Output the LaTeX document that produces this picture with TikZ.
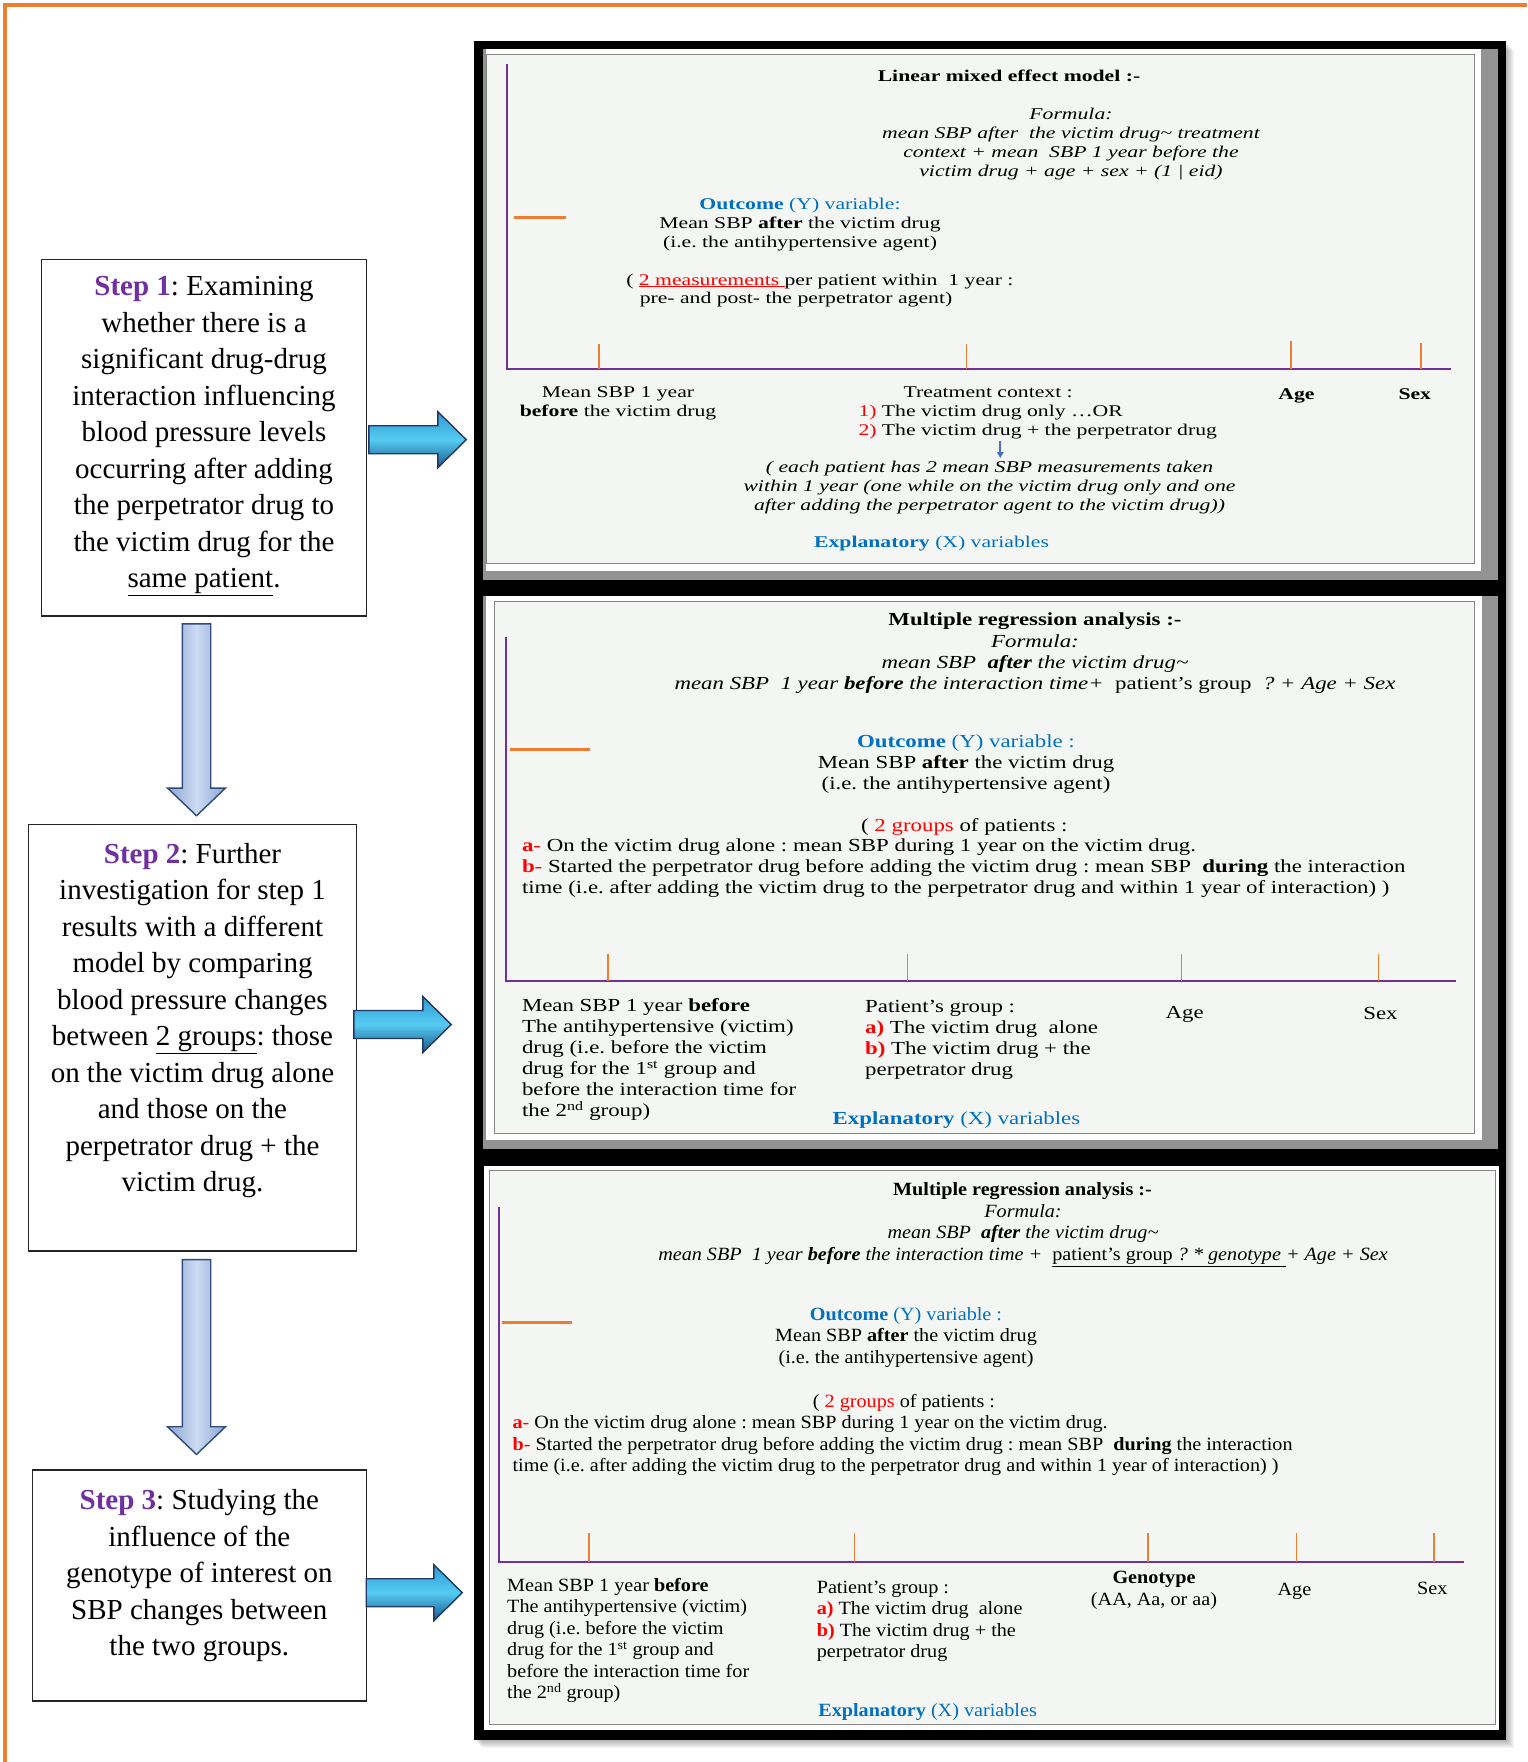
\documentclass[tikz,border=0pt]{standalone}
\usepackage{fontspec}
\setmainfont{Liberation Serif}
\newfontfamily\panelfontA{Liberation Serif}[FakeStretch=1.322]
\newfontfamily\panelfontB{Liberation Serif}[FakeStretch=1.242]
\newfontfamily\panelfontC{Liberation Serif}[FakeStretch=1.079]
\usetikzlibrary{calc,arrows.meta}

\definecolor{framecol}{HTML}{ED7D31}
\definecolor{stepviolet}{HTML}{7030A0}
\definecolor{axisviolet}{HTML}{7030A0}
\definecolor{tickorange}{HTML}{ED7D31}
\definecolor{textblue}{HTML}{0070C0}
\definecolor{textred}{HTML}{FF0000}
\definecolor{panelbg}{HTML}{F4F6F4}
\definecolor{panelline}{HTML}{858585}
\definecolor{shadowgray}{HTML}{939393}
\definecolor{arrowblue}{HTML}{4472C4}
\definecolor{dnfillA}{HTML}{8DA5D3}
\definecolor{dnfillB}{HTML}{CCDBF3}
\definecolor{dnline}{HTML}{2F4B7C}
\definecolor{rtop}{HTML}{2F9AD2}
\definecolor{rmid}{HTML}{56CBF2}
\definecolor{rbot}{HTML}{17588A}
\definecolor{rline}{HTML}{1F3864}

% strut fixing the top of a text block at 0.8em above its first baseline
\newcommand\firststrut{\rule{0pt}{0.8em}}

\tikzset{
  stepbox/.style={draw=black!85, line width=1.1pt, inner sep=0pt, fill=white},
  steptext/.style={font={\fontsize{29}{36.5}\selectfont}, inner sep=0pt, anchor=north, align=center},
  pA/.style={font={\panelfontA\fontsize{16.4}{18.9}\selectfont}, inner sep=0pt},
  pAi/.style={font={\panelfontA\fontsize{16.4}{18.9}\selectfont\itshape}, inner sep=0pt},
  pB/.style={font={\panelfontB\fontsize{18.4}{21.0}\selectfont}, inner sep=0pt},
  pBi/.style={font={\panelfontB\fontsize{18.4}{21.2}\selectfont\itshape}, inner sep=0pt},
  pC/.style={font={\panelfontC\fontsize{18.7}{21.5}\selectfont}, inner sep=0pt},
  pCi/.style={font={\panelfontC\fontsize{18.7}{21.8}\selectfont\itshape}, inner sep=0pt},
  axisline/.style={draw=axisviolet, line width=1.6pt},
  tickline/.style={draw=tickorange, line width=1.6pt},
  dashline/.style={draw=tickorange, line width=2.6pt},
  panelface/.style={fill=panelbg, draw=panelline, line width=1pt},
  framebar/.style={draw=framecol, line width=3.2pt},
  notearrow/.style={draw=arrowblue, line width=1.7pt, -{Triangle[length=6pt,width=6.5pt]}},
  downarrow/.style={left color=dnfillA, right color=dnfillA, middle color=dnfillB, draw=dnline, line width=1.4pt, line join=miter},
  rightarrow/.style={top color=rtop, bottom color=rbot, middle color=rmid, draw=rline, line width=1.4pt, line join=miter},
}

% vertical block arrow from #1 (top of shaft) to #2 (tip)
\newcommand\downblock[2]{%
  \path[downarrow] let \p1=(#1), \p2=(#2) in
    (\x1-14.2pt,\y1) -- (\x1+14.2pt,\y1) -- (\x1+14.2pt,\y2+27.7pt) -- (\x1+29pt,\y2+27.7pt)
    -- (\x2,\y2) -- (\x1-29pt,\y2+27.7pt) -- (\x1-14.2pt,\y2+27.7pt) -- cycle;}
% horizontal block arrow from #1 (tail) to #2 (tip)
\newcommand\rightblock[2]{%
  \path[rightarrow] let \p1=(#1), \p2=(#2) in
    (\x1,\y1+14pt) -- (\x2-28.4pt,\y1+14pt) -- (\x2-28.4pt,\y1+28pt) -- (\x2,\y1)
    -- (\x2-28.4pt,\y1-28pt) -- (\x2-28.4pt,\y1-14pt) -- (\x1,\y1-14pt) -- cycle;}

\begin{document}
\frenchspacing
\begin{tikzpicture}[x=1pt,y=-1pt]
\useasboundingbox (0,0) rectangle (1527,1762);
\fill[white] (0,0) rectangle (1527,1762);

% orange outline along top and left
\draw[framebar] (5,1762) -- (5,5) -- (1527,5);

% black frame holding the three model panels, with a soft shadow
\foreach \d in {1,...,8}
  \fill[black,opacity=0.04] ({474+\d},{42+\d}) rectangle ({1506+\d},{1740+\d});
\fill[black] (474,41) rectangle (1506,1740);

% panel 1
\fill[shadowgray] (483,49) rectangle (1498,580);
\fill[white] (486,49) rectangle (1481,571);
\path[panelface] (486.5,54) rectangle (1474,563);
% panel 2
\fill[shadowgray] (483,596) rectangle (1498,1149);
\fill[white] (486,596) rectangle (1482,1140);
\path[panelface] (494,601) rectangle (1474,1133);
% panel 3
\fill[white] (484,1166) rectangle (1499,1730);
\path[panelface] (489,1170) rectangle (1495,1724);

% ---------- axes ----------
\draw[axisline] (507,64) -- (507,369) -- (1450.5,369);
\foreach \tx/\ty in {599.2/344, 966.6/344, 1291/341, 1420.9/343}
  \draw[tickline] (\tx,\ty) -- (\tx,369);
\draw[dashline] (513.7,217.5) -- (565.6,217.5);

\draw[axisline] (505.7,637) -- (505.7,981) -- (1455.9,981);
\foreach \tx in {608, 907.4, 1181.3, 1378.5}
  \draw[tickline] (\tx,953.7) -- (\tx,981);
\draw[dashline] (510.4,749.4) -- (589.8,749.4);

\draw[axisline] (498.9,1207) -- (498.9,1562) -- (1464,1562);
\foreach \tx in {589.1, 854.3, 1147.7, 1296.4, 1433.7}
  \draw[tickline] (\tx,1532.5) -- (\tx,1562);
\draw[dashline] (502.3,1322.5) -- (572.3,1322.5);

% ---------- step boxes ----------
\node[stepbox, minimum width=325pt, minimum height=356.7pt] (s1) at (204.2,437.65) {};
\node[stepbox, minimum width=328.4pt, minimum height=426.5pt] (s2) at (192.5,1037.75) {};
\node[stepbox, minimum width=334.4pt, minimum height=231pt] (s3) at (199.5,1585.5) {};

\node[steptext] (s1text) at (204,272.5) {\firststrut\textcolor{stepviolet}{\textbf{Step 1}}: Examining\\
  whether there is a\\ significant drug-drug\\ interaction influencing\\ blood pressure levels\\
  occurring after adding\\ the perpetrator drug to\\ the victim drug for the\\ \underline{same patient}.};
\node[steptext] (s2text) at (192.5,840) {\firststrut\textcolor{stepviolet}{\textbf{Step 2}}: Further\\
  investigation for step 1\\ results with a different\\ model by comparing\\ blood pressure changes\\
  between \underline{2 groups}: those\\ on the victim drug alone\\ and those on the\\
  perpetrator drug + the\\ victim drug.};
\node[steptext] (s3text) at (199.3,1486.5) {\firststrut\textcolor{stepviolet}{\textbf{Step 3}}: Studying the\\
  influence of the\\ genotype of interest on\\ SBP changes between\\ the two groups.};

% ---------- block arrows ----------
\coordinate (d1top) at ($(s1.south)+(-7.7,7.3)$);
\coordinate (d1tip) at ($(s2.north)+(4,-8.2)$);
\coordinate (d2top) at ($(s2.south)+(4,8)$);
\coordinate (d2tip) at ($(s3.north)+(-3,-15)$);
\downblock{d1top}{d1tip}
\downblock{d2top}{d2tip}

\coordinate (r1tail) at ($(s1.east)+(1.6,2.05)$);
\coordinate (r1tip) at ($(r1tail)+(97.4,0)$);
\coordinate (r2tail) at ($(s2.east)+(-3.4,-13.25)$);
\coordinate (r2tip) at ($(r2tail)+(97.4,0)$);
\coordinate (r3tail) at ($(s3.east)+(-1,7.2)$);
\coordinate (r3tip) at ($(r3tail)+(96,0)$);
\rightblock{r1tail}{r1tip}
\rightblock{r2tail}{r2tip}
\rightblock{r3tail}{r3tip}

% ---------- panel 1: linear mixed effect model ----------
\node[pA, anchor=base] (p1title) at (1009,81.4) {\textbf{Linear mixed effect model :-}};
\node[pAi, anchor=north, align=center] (p1formula) at (1071,106.5) {\firststrut Formula:\\
  mean SBP after\ \ the victim drug\textasciitilde{} treatment\\
  context + mean\ \ SBP 1 year before the\\ victim drug + age + sex + (1 | eid)};
\node[pA, anchor=north, align=center] (p1outcome) at (800,196.5) {\firststrut\textcolor{textblue}{\textbf{Outcome} (Y) variable:}\\
  Mean SBP \textbf{after} the victim drug\\ (i.e. the antihypertensive agent)};
\node[pA, anchor=base west] (p1meas) at (626.1,285) {( \textcolor{textred}{\underline{2 measurements\ }}per patient within\ \ 1 year :};
\node[pA, anchor=base west] (p1prepost) at (639.6,303.9) {pre- and post- the perpetrator agent)};
\node[pA, anchor=north, align=center] (p1xbase) at (618,384) {\firststrut Mean SBP 1 year\\ \textbf{before} the victim drug};
\node[pA, anchor=base] (p1xtreat) at (988.2,397.1) {Treatment context :};
\node[pA, anchor=north west, align=left] (p1xlist) at (858.3,402.9) {\firststrut\textcolor{textred}{1)} The victim drug only …OR\\
  \textcolor{textred}{2)} The victim drug + the perpetrator drug};
\node[pAi, anchor=north, align=center] (p1note) at (989.5,459.4) {\firststrut( each patient has 2 mean SBP measurements taken\\
  within 1 year (one while on the victim drug only and one\\ after adding the perpetrator agent to the victim drug))};
\node[pA, anchor=base] (p1age) at (1296.4,399.2) {\textbf{Age}};
\node[pA, anchor=base] (p1sex) at (1414.8,399.2) {\textbf{Sex}};
\node[pA, anchor=base] (p1expl) at (931.6,547.5) {\textcolor{textblue}{\textbf{Explanatory} (X) variables}};
\coordinate (p1arrowtop) at (1000.3,440.5);
\coordinate (p1arrowend) at (1000.3,458);
\draw[notearrow] (p1arrowtop) -- (p1arrowend);

% ---------- panel 2: multiple regression ----------
\node[pB, anchor=base] (p2title) at (1035,625.9) {\textbf{Multiple regression analysis :-}};
\node[pBi, anchor=north, align=center] (p2formula) at (1035,632.3) {\firststrut Formula:\\
  mean SBP\ \ \textbf{after} the victim drug\textasciitilde\\
  mean SBP\ \ 1 year \textbf{before} the interaction time+\ \ {\upshape patient’s group}\ \ ? + Age + Sex};
\node[pB, anchor=north, align=center] (p2outcome) at (966,732.5) {\firststrut\textcolor{textblue}{\textbf{Outcome} (Y) variable :}\\
  Mean SBP \textbf{after} the victim drug\\ (i.e. the antihypertensive agent)};
\node[pB, anchor=base] (p2groups) at (964.3,831.2) {( \textcolor{textred}{2 groups} of patients :};
\node[pB, anchor=north west, align=left] (p2ab) at (521.8,836.9) {\firststrut\textcolor{textred}{\textbf{a}-} On the victim drug alone : mean SBP during 1 year on the victim drug.\\
  \textcolor{textred}{\textbf{b}-} Started the perpetrator drug before adding the victim drug : mean SBP\ \ \textbf{during} the interaction\\
  time (i.e. after adding the victim drug to the perpetrator drug and within 1 year of interaction) )};
\node[pB, anchor=north west, align=left] (p2xbase) at (521.8,996.7) {\firststrut Mean SBP 1 year \textbf{before}\\
  The antihypertensive (victim)\\ drug (i.e. before the victim\\ drug for the 1\textsuperscript{st} group and\\
  before the interaction time for\\ the 2\textsuperscript{nd} group)};
\node[pB, anchor=north west, align=left] (p2xgroup) at (865,997.8) {\firststrut Patient’s group :\\
  \textcolor{textred}{\textbf{a)}} The victim drug\ \ alone\\ \textcolor{textred}{\textbf{b)}} The victim drug + the\\ perpetrator drug};
\node[pB, anchor=base] (p2age) at (1184.7,1018.8) {Age};
\node[pB, anchor=base] (p2sex) at (1380.5,1019.9) {Sex};
\node[pB, anchor=base] (p2expl) at (956.5,1124.6) {\textcolor{textblue}{\textbf{Explanatory} (X) variables}};

% ---------- panel 3: multiple regression with genotype ----------
\node[pC, anchor=base] (p3title) at (1022.5,1195.4) {\textbf{Multiple regression analysis :-}};
\node[pCi, anchor=north, align=center] (p3formula) at (1023,1201.9) {\firststrut Formula:\\
  mean SBP\ \ \textbf{after} the victim drug\textasciitilde\\
  mean SBP\ \ 1 year \textbf{before} the interaction time +\ \ \underline{{\upshape patient’s group} ? * genotype\ }+ Age + Sex};
\node[pC, anchor=north, align=center] (p3outcome) at (906,1305.3) {\firststrut\textcolor{textblue}{\textbf{Outcome} (Y) variable :}\\
  Mean SBP \textbf{after} the victim drug\\ (i.e. the antihypertensive agent)};
\node[pC, anchor=base] (p3groups) at (904,1407) {( \textcolor{textred}{2 groups} of patients :};
\node[pC, anchor=north west, align=left] (p3ab) at (512.4,1413.4) {\firststrut\textcolor{textred}{\textbf{a}-} On the victim drug alone : mean SBP during 1 year on the victim drug.\\
  \textcolor{textred}{\textbf{b}-} Started the perpetrator drug before adding the victim drug : mean SBP\ \ \textbf{during} the interaction\\
  time (i.e. after adding the victim drug to the perpetrator drug and within 1 year of interaction) )};
\node[pC, anchor=north west, align=left] (p3xbase) at (507,1576.2) {\firststrut Mean SBP 1 year \textbf{before}\\
  The antihypertensive (victim)\\ drug (i.e. before the victim\\ drug for the 1\textsuperscript{st} group and\\
  before the interaction time for\\ the 2\textsuperscript{nd} group)};
\node[pC, anchor=north west, align=left] (p3xgroup) at (816.6,1578.2) {\firststrut Patient’s group :\\
  \textcolor{textred}{\textbf{a)}} The victim drug\ \ alone\\ \textcolor{textred}{\textbf{b)}} The victim drug + the\\ perpetrator drug};
\node[pC, anchor=north, align=center] (p3xgeno) at (1154,1568.8) {\firststrut\textbf{Genotype}\\ (AA, Aa, or aa)};
\node[pC, anchor=base] (p3age) at (1294.4,1595.5) {Age};
\node[pC, anchor=base] (p3sex) at (1432.3,1594.2) {Sex};
\node[pC, anchor=base] (p3expl) at (927.6,1716.1) {\textcolor{textblue}{\textbf{Explanatory} (X) variables}};
\end{tikzpicture}
\end{document}
